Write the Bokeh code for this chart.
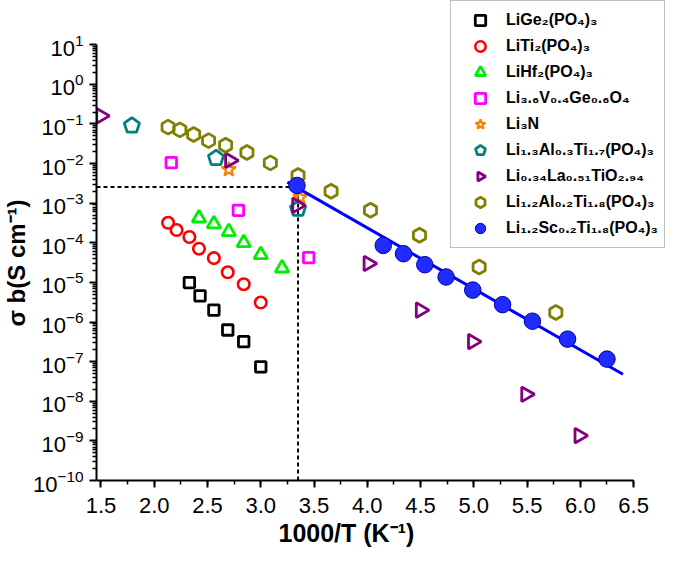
import math
from bokeh.plotting import figure
from bokeh.models import (Legend, LegendItem, Title, SingleIntervalTicker,
                          FixedTicker, PrintfTickFormatter)
from bokeh.embed import file_html
from bokeh.resources import INLINE

# ---------------- data ----------------
ge_x = [2.33, 2.43, 2.56, 2.69, 2.84, 3.00]
ge_y = [9.9e-6, 4.6e-6, 2.0e-6, 6.3e-7, 3.2e-7, 7.4e-8]

ti_x = [2.13, 2.21, 2.33, 2.42, 2.56, 2.69, 2.84, 3.00]
ti_y = [3.2e-4, 2.1e-4, 1.4e-4, 7.1e-5, 4.1e-5, 1.8e-5, 9.0e-6, 3.1e-6]

hf_x = [2.42, 2.56, 2.70, 2.84, 3.00, 3.20]
hf_y = [4.2e-4, 3.0e-4, 1.9e-4, 1.0e-4, 5.0e-5, 2.3e-5]

lvgo_x = [2.16, 2.79, 3.45]
lvgo_y = [1.05e-2, 6.6e-4, 4.2e-5]

li3n_x = [2.70, 3.37]
li3n_y = [7.1e-3, 1.4e-3]

latp_x = [1.79, 2.58, 3.35]
latp_y = [9.1e-2, 1.37e-2, 7.2e-4]

llto_x = [1.50, 2.71, 3.34, 4.01, 4.50, 4.99, 5.49, 5.99]
llto_y = [1.6e-1, 1.2e-2, 8.8e-4, 3.0e-5, 2.0e-6, 3.2e-7, 1.5e-8, 1.36e-9]

lagp_x = [2.13, 2.24, 2.37, 2.51, 2.67, 2.87, 3.09, 3.35, 3.66, 4.03, 4.49, 5.05, 5.77]
lagp_y = [8.3e-2, 7.1e-2, 5.4e-2, 3.8e-2, 2.9e-2, 1.9e-2, 1.04e-2, 5.0e-3,
          2.0e-3, 6.6e-4, 1.55e-4, 2.45e-5, 1.74e-6]

lstp_x = [3.34, 4.15, 4.34, 4.54, 4.74, 4.99, 5.27, 5.55, 5.88, 6.25]
lstp_y = [2.8e-3, 8.6e-5, 5.3e-5, 2.8e-5, 1.37e-5, 6.4e-6, 2.75e-6, 1.05e-6, 3.7e-7, 1.16e-7]

fit_x = [3.25, 6.40]
fit_y = [3.4e-3, 4.8e-8]

cross_x = 3.35
cross_y = 2.55e-3

labels = ["LiGe₂(PO₄)₃", "LiTi₂(PO₄)₃", "LiHf₂(PO₄)₃", "Li₃.₆V₀.₄Ge₀.₆O₄", "Li₃N",
          "Li₁.₃Al₀.₃Ti₁.₇(PO₄)₃", "Li₀.₃₄La₀.₅₁TiO₂.₉₄", "Li₁.₂Al₀.₂Ti₁.₈(PO₄)₃",
          "Li₁.₂Sc₀.₂Ti₁.₈(PO₄)₃"]
x_title = "1000/T (K⁻¹)"
y_title = "σ b(S cm⁻¹)"

x_major_step = 0.5
y_major = [10.0 ** k for k in range(-10, 2)]
y_minor = [m * 10.0 ** k for k in range(-10, 1) for m in range(2, 10)]

X_START, X_END, X_AXIS_END = 1.458, 6.837, 6.5
Y_START, Y_END, Y_AXIS_END = 1e-10, 10 ** 2.116, 10.0

FONT = "Liberation Sans"

p = figure(width=669, height=552, x_range=(X_START, X_END), y_range=(Y_START, Y_END),
           y_axis_type="log", output_backend="svg", toolbar_location=None,
           min_border_left=94, min_border_right=0, min_border_top=0, min_border_bottom=72)
p.grid.visible = False
p.outline_line_color = None
p.background_fill_color = "white"

xa = p.xaxis[0]
ya = p.yaxis[0]
xa.bounds = (X_START, X_AXIS_END)
ya.bounds = (Y_START, Y_AXIS_END)
xa.ticker = SingleIntervalTicker(interval=x_major_step, num_minor_ticks=2)
xa.formatter = PrintfTickFormatter(format="%.1f")
ya.ticker = FixedTicker(ticks=y_major, minor_ticks=y_minor)
for ax in (xa, ya):
    ax.axis_line_width = 2
    ax.axis_line_color = "black"
    ax.major_tick_line_width = 2
    ax.major_tick_line_color = "black"
    ax.minor_tick_line_width = 1.5
    ax.minor_tick_line_color = "black"
    ax.major_tick_out = 7
    ax.major_tick_in = 0
    ax.minor_tick_out = 4
    ax.minor_tick_in = 0
    ax.major_label_text_font = FONT
    ax.major_label_text_font_size = "22px"
    ax.major_label_text_color = "black"
xa.major_label_standoff = 10
ya.major_label_standoff = 6

# reference dashed lines
p.line([X_START, cross_x], [cross_y, cross_y], line_color="black", line_width=2, line_dash="4 3")
p.line([cross_x, cross_x], [Y_START, cross_y], line_color="black", line_width=2, line_dash="4 3")


def ngon_or_marker(xs, ys, n, angle, radius, color, marker, size, mangle):
    try:
        return p.ngon(x=xs, y=ys, radius=radius, radius_units="screen", n=n, angle=angle,
                      line_color=color, fill_color=None, line_width=2.8)
    except Exception:
        return p.scatter(xs, ys, marker=marker, size=size, angle=mangle, line_color=color,
                         fill_color=None, line_width=2.8)


renderers = []
renderers.append(p.scatter(ge_x, ge_y, marker="square", size=10.5, line_color="black",
                           fill_color=None, line_width=2.8))
renderers.append(p.scatter(ti_x, ti_y, marker="circle", size=11.5, line_color="#ff0000",
                           fill_color=None, line_width=2.6))
renderers.append(p.scatter(hf_x, hf_y, marker="triangle", size=13.5, line_color="#00ee00",
                           fill_color=None, line_width=2.8))
renderers.append(p.scatter(lvgo_x, lvgo_y, marker="square", size=10.5, line_color="#ff00ff",
                           fill_color=None, line_width=2.8))
renderers.append(p.scatter(li3n_x, li3n_y, marker="star", size=15, line_color="#ff7f00",
                           fill_color=None, line_width=2.2))
renderers.append(ngon_or_marker(latp_x, latp_y, 5, 0.0, 8, "#008080", "hex", 15, 0))
renderers.append(ngon_or_marker(llto_x, llto_y, 3, -math.pi / 2, 8.5, "#800080", "triangle",
                                15, -math.pi / 2))
renderers.append(ngon_or_marker(lagp_x, lagp_y, 6, 0.0, 7, "#808000", "hex", 14,
                                math.pi / 2))
p.line(fit_x, fit_y, line_color="#0000ff", line_width=3)
renderers.append(p.scatter(lstp_x, lstp_y, marker="circle", size=16.5, fill_color="#1f2bff",
                           line_color="#0000a8", line_width=1))

items = [LegendItem(label=lab, renderers=[r]) for lab, r in zip(labels, renderers)]
legend = Legend(items=items, location=(354, 232), glyph_width=46, glyph_height=26,
                label_standoff=3, padding=6, spacing=0, margin=0,
                label_text_font=FONT, label_text_font_style="bold",
                label_text_font_size="16px", label_text_color="black",
                border_line_color="#808080", border_line_width=1.5,
                background_fill_color="white", background_fill_alpha=1)
p.add_layout(legend)

xt = Title(text=x_title, align="left", offset=182, standoff=6, vertical_align="top",
           text_font=FONT, text_font_size="25px", text_font_style="bold",
           text_color="black")
yt = Title(text=y_title, align="left", offset=154, standoff=0, vertical_align="bottom",
           text_font=FONT, text_font_size="24px", text_font_style="bold",
           text_color="black")
p.add_layout(xt, "below")
p.add_layout(yt, "left")

open("out.html", "w").write(file_html(p, INLINE))
